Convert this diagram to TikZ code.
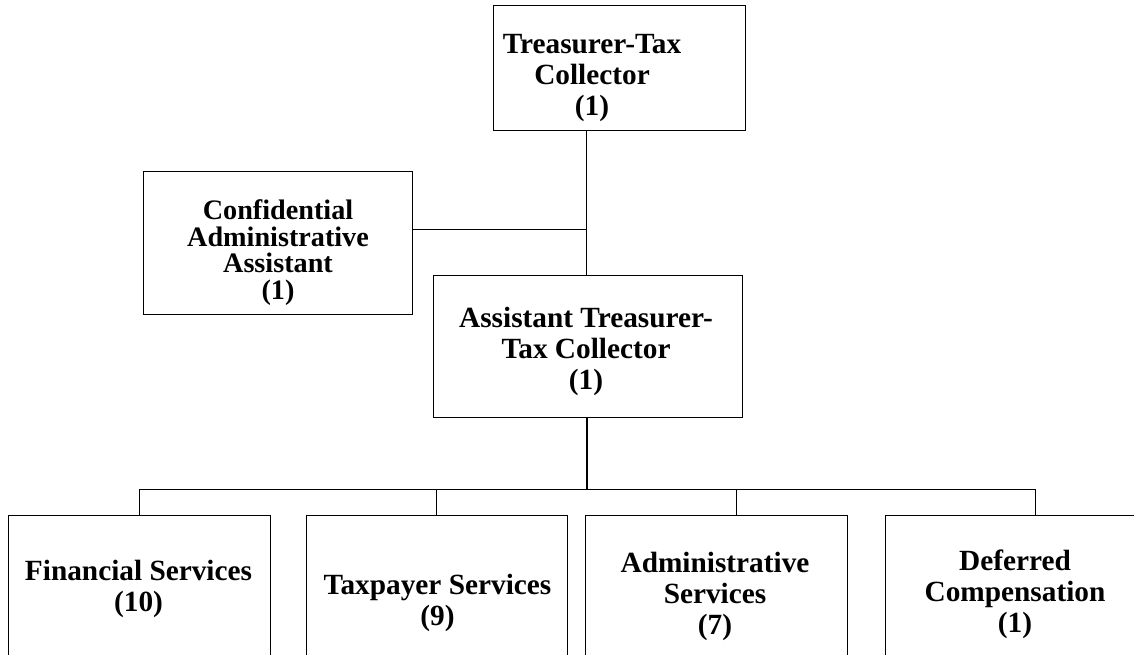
\documentclass[tikz,border=0pt]{standalone}
\usepackage{fontspec}
\setmainfont{Liberation Serif}
\begin{document}
\begin{tikzpicture}[x=1pt,y=-1pt,
  box/.style={draw=black,line width=1pt,rectangle,inner sep=0pt,fill=none},
  txt/.style={align=center,inner sep=0pt,font=\bfseries\fontsize{29.3}{31}\selectfont},
  txtsmall/.style={align=center,inner sep=0pt,font=\bfseries\fontsize{28.2}{26.7}\selectfont},
  conn/.style={draw=black,line width=1pt},
  thickconn/.style={draw=black,line width=2pt}]
\useasboundingbox (0,0) rectangle (1134,654);
\clip (0,0) rectangle (1134,654);
\fill[white] (0,0) rectangle (1134,654);
% boxes
\node[box,minimum width=252pt,minimum height=125pt] (ttc) at (619,67.5) {};
\node[box,minimum width=269pt,minimum height=143pt] (caa) at (277.5,242.5) {};
\node[box,minimum width=309pt,minimum height=142pt] (atc) at (587.5,346) {};
\node[box,minimum width=262pt,minimum height=200pt] (fin) at (139,615) {};
\node[box,minimum width=261pt,minimum height=200pt] (tax) at (436.5,615) {};
\node[box,minimum width=262pt,minimum height=200pt] (adm) at (716,615) {};
\node[box,minimum width=260pt,minimum height=200pt] (def) at (1015,615) {};
% texts
\node[txt] (ttcT) at (592,78) {Treasurer-Tax\\Collector\\(1)};
\node[txtsmall] (caaT) at (278,252.5) {Confidential\\Administrative\\Assistant\\(1)};
\node[txt] (atcT) at (586,351) {Assistant Treasurer-\\Tax Collector\\(1)};
\node[txt] (finT) at (138.5,588.5) {Financial Services\\(10)};
\node[txt] (taxT) at (437.5,602.5) {Taxpayer Services\\(9)};
\node[txt] (admT) at (715,596) {Administrative\\Services\\(7)};
\node[txt] (defT) at (1015,594.5) {Deferred\\Compensation\\(1)};
% junctions
\coordinate (j1) at (586,229);
\coordinate (bus) at (587,489);
\coordinate (busL) at (139,489);
\coordinate (busR) at (1035,489);
\coordinate (dAdm) at (736,489);
% connectors
\draw[conn] (ttc.south -| j1) -- (atc.north -| j1);
\draw[conn] (caa.east |- j1) -- (j1);
\draw[thickconn] (atc.south -| bus) -- (bus);
\draw[conn] (busL) -- (busR);
\draw[conn] (busL) -- (fin.north -| busL);
\draw[conn] (tax.north |- bus) -- (tax.north);
\draw[conn] (dAdm) -- (adm.north -| dAdm);
\draw[conn] (busR) -- (def.north -| busR);
\end{tikzpicture}
\end{document}
